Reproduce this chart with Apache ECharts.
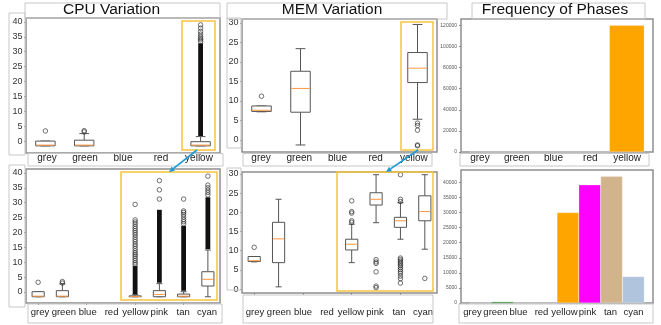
<!DOCTYPE html>
<html><head><meta charset="utf-8">
<script src="https://cdn.jsdelivr.net/npm/echarts@6/dist/echarts.min.js"></script>
<style>html,body{margin:0;padding:0;background:#fff}#c{width:661px;height:325px}</style>
</head><body><div id="c"></div>
<script>
// ---------------- DATA ----------------
const titles = ['CPU Variation', 'MEM Variation', 'Frequency of Phases'];
const topCats = ['grey', 'green', 'blue', 'red', 'yellow'];
const bottomCats = ['grey', 'green', 'blue', 'red', 'yellow', 'pink', 'tan', 'cyan'];
const cpuTicks = [0, 5, 10, 15, 20, 25, 30, 35, 40];
const memTicks = [0, 5, 10, 15, 20, 25, 30];
const freqTopTicks = [0, 20000, 40000, 60000, 80000, 100000, 120000];
const freqBottomTicks = [0, 5000, 10000, 15000, 20000, 25000, 30000, 35000, 40000];

// box stats: [lower whisker, q1, median, q3, upper whisker]
const cpuTopBoxes = [
  [-1.6, -1.6, -1.35, 0.0, 0.0],
  [-1.6, -1.6, -1.35, 0.3, 2.5],
  null, null,
  [-1.6, -1.6, -1.35, -0.2, 1.5]
];
const cpuTopFliers = [[3.4], [3.1, 3.5], [], [], [33.4, 34.0, 34.5, 35.1, 35.9, 36.8, 37.9, 39.0]];
const cpuTopDense = [null, null, null, null, [1.7, 32.8]];

const cpuBottomBoxes = [
  [-1.6, -1.6, -1.4, 0.1, 0.1],
  [-1.6, -1.6, -1.4, 0.45, 2.7],
  null, null,
  [-1.6, -1.6, -1.5, -1.3, -0.9],
  [-1.6, -1.6, -0.8, 0.45, 2.8],
  [-1.6, -1.6, -1.4, -0.7, 0.1],
  [-1.6, 2.0, 4.25, 6.8, 14.1]
];
const cpuBottomFliers = [
  [3.25], [3.0, 3.5], [], [],
  [9.2, 9.8, 10.5, 11.2, 11.9, 12.5, 13.1, 13.8, 14.6, 15.4, 16.1, 16.9, 17.6, 18.4, 19.2, 19.9, 20.6, 21.3, 22.0, 22.8, 23.5, 24.2, 29.4],
  [31.2, 34.3, 37.4],
  [22.9, 23.6, 24.3, 25.2, 26.0, 26.7, 27.2, 31.2],
  [32.6, 33.4, 34.2, 35.0, 35.9, 38.9]
];
const cpuBottomDense = [null, null, null, null, [-0.8, 8.8], [3.1, 27.6], [0.4, 22.2], [14.4, 31.8]];

const memTopBoxes = [
  [7.2, 7.3, 7.6, 8.7, 8.7],
  [-1.3, 7.1, 13.2, 17.6, 23.4],
  null, null,
  [5.3, 14.7, 18.4, 22.4, 29.6]
];
const memTopFliers = [[11.2], [], [], [], [4.3, 3.7, 2.5, -1.3, -1.5]];

const memBottomBoxes = [
  [7.1, 7.2, 7.4, 8.5, 8.5],
  [0.6, 6.9, 13.1, 17.4, 23.4],
  null, null,
  [6.9, 10.2, 11.7, 13.0, 16.9],
  [17.3, 21.9, 23.4, 25.1, 29.8],
  [13.0, 16.1, 17.8, 18.7, 22.5],
  [10.4, 17.8, 20.2, 24.3, 29.8]
];
const memBottomFliers = [
  [10.9], [], [], [],
  [17.4, 17.8, 19.8, 20.2, 23.0],
  [7.7, 7.1, 6.7, 4.5, 0.8, 0.4],
  [29.8, 23.4, 22.8, 8.1, 7.7, 7.3, 6.9, 6.5, 6.1, 5.6, 5.1, 4.6, 4.1, 3.4, 2.7, 1.6],
  [2.8]
];

const freqTopCounts = [0, 0, 0, 0, 120000];
const freqBottomCounts = [0, 450, 0, 0, 30000, 39200, 42000, 8800];

// ---------------- STYLE / LAYOUT ----------------
const phaseColors = { grey: '#808080', green: '#008000', blue: '#0000ff', red: '#ff0000',
  yellow: '#FFA500', pink: '#FF00FF', tan: '#D2B48C', cyan: '#B0C4DE' };
const FONT = 'Liberation Sans, Arial, sans-serif';
const FRAME = '#8e8e8e', BOXLINE = '#c8c8c8', HILITE = '#F7C340', ARROW = '#1E9AD6';
const EDGE = '#555', MEDIAN = '#FF9640';

const panels = [
  { kind: 'box', cats: topCats, boxes: cpuTopBoxes, fliers: cpuTopFliers, dense: cpuTopDense,
    grid: { left: 26, top: 18, width: 194, height: 135 }, ymin: -4.0, ymax: 41.3, ticks: cpuTicks,
    lab: { left: 28, width: 190, y: 158.5, size: 10 } },
  { kind: 'box', cats: bottomCats, boxes: cpuBottomBoxes, fliers: cpuBottomFliers, dense: cpuBottomDense,
    grid: { left: 26, top: 169, width: 194, height: 134 }, ymin: -3.7, ymax: 41.3, ticks: cpuTicks,
    lab: { left: 28, width: 191, y: 312.5, size: 9.5 } },
  { kind: 'box', cats: topCats, boxes: memTopBoxes, fliers: memTopFliers, dense: [],
    grid: { left: 242, top: 19, width: 195, height: 133 }, ymin: -3.1, ymax: 31.0, ticks: memTicks,
    lab: { left: 242, width: 191, y: 158.5, size: 10 } },
  { kind: 'box', cats: bottomCats, boxes: memBottomBoxes, fliers: memBottomFliers, dense: [],
    grid: { left: 242, top: 172, width: 195, height: 121 }, ymin: -1.0, ymax: 30.5, ticks: memTicks,
    lab: { left: 243, width: 192, y: 312.5, size: 9.5 } },
  { kind: 'bar', cats: topCats, counts: freqTopCounts, xmin: -0.75, xmax: 4.75, barW: 35,
    grid: { left: 461, top: 19, width: 192, height: 133 }, ymin: 0, ymax: 126000, ticks: freqTopTicks,
    lab: { left: 461.5, width: 184, y: 158.5, size: 10 } },
  { kind: 'bar', cats: bottomCats, counts: freqBottomCounts, xmin: -0.9, xmax: 7.9, barW: 22,
    grid: { left: 461, top: 170, width: 192, height: 133 }, ymin: 0, ymax: 44100, ticks: freqBottomTicks,
    lab: { left: 461, width: 184, y: 312.5, size: 9.5 } }
];

const grid = [], xAxis = [], yAxis = [], series = [];

function boxRender(params, api) {
  const x = api.value(0);
  const lo = api.coord([x, api.value(1)]);
  const q1 = api.coord([x, api.value(2)]);
  const md = api.coord([x, api.value(3)]);
  const q3 = api.coord([x, api.value(4)]);
  const hi = api.coord([x, api.value(5)]);
  const bw = api.size([1, 0])[0] * 0.5;
  const cx = lo[0], hw = bw / 2, cw = bw / 4;
  const ls = { stroke: EDGE, lineWidth: 1 };
  return { type: 'group', children: [
    { type: 'line', shape: { x1: cx, y1: lo[1], x2: cx, y2: q1[1] }, style: ls },
    { type: 'line', shape: { x1: cx, y1: q3[1], x2: cx, y2: hi[1] }, style: ls },
    { type: 'line', shape: { x1: cx - cw, y1: lo[1], x2: cx + cw, y2: lo[1] }, style: ls },
    { type: 'line', shape: { x1: cx - cw, y1: hi[1], x2: cx + cw, y2: hi[1] }, style: ls },
    { type: 'rect', shape: { x: cx - hw, y: q3[1], width: bw, height: Math.max(q1[1] - q3[1], 0.5) },
      style: { fill: '#fff', stroke: EDGE, lineWidth: 1 } },
    { type: 'line', shape: { x1: cx - hw + 0.5, y1: md[1], x2: cx + hw - 0.5, y2: md[1] },
      style: { stroke: MEDIAN, lineWidth: 1 } }
  ] };
}
function denseRender(params, api) {
  const x = api.value(0);
  const a = api.coord([x, api.value(1)]);
  const b = api.coord([x, api.value(2)]);
  return { type: 'rect', shape: { x: a[0] - 2.4, y: b[1], width: 4.8, height: a[1] - b[1] },
    style: { fill: '#111' } };
}

panels.forEach((p, i) => {
  const g = grid.length;
  grid.push(Object.assign({ show: true, borderColor: FRAME, borderWidth: 1.5, backgroundColor: '#fff' }, p.grid));
  const isBar = p.kind === 'bar';
  if (isBar) {
    xAxis.push({ gridIndex: g, type: 'value', min: p.xmin, max: p.xmax, show: false,
      axisLine: { onZero: false } });
  } else {
    xAxis.push({ gridIndex: g, type: 'category', data: p.cats,
      axisLine: { show: false, onZero: false }, axisLabel: { show: false }, splitLine: { show: false },
      axisTick: { show: true, alignWithLabel: true, length: 2, lineStyle: { color: '#888' } } });
  }
  yAxis.push({ gridIndex: g, type: 'value', min: p.ymin, max: p.ymax,
    axisLine: { show: false, onZero: false }, splitLine: { show: false },
    axisTick: { show: true, length: 2, customValues: p.ticks, lineStyle: { color: '#888' } },
    axisLabel: { customValues: p.ticks, margin: isBar ? 4 : 3.5, fontSize: isBar ? 5 : 9,
      color: isBar ? '#555' : '#333', fontFamily: FONT, formatter: v => String(v) } });

  if (isBar) {
    series.push({ type: 'bar', xAxisIndex: g, yAxisIndex: g, barWidth: p.barW,
      data: p.counts.map((c, k) => [k, c]),
      itemStyle: { color: prm => phaseColors[p.cats[prm.data[0]]], borderColor: 'rgba(255,255,255,0.5)', borderWidth: 0.5 },
      animation: false, silent: true });
  } else {
    const bdata = [];
    p.boxes.forEach((b, k) => { if (b) bdata.push([k].concat(b)); });
    series.push({ type: 'custom', xAxisIndex: g, yAxisIndex: g, renderItem: boxRender,
      encode: { x: 0, y: [1, 2, 3, 4, 5] }, data: bdata, animation: false, silent: true, z: 2 });
    const ddata = [];
    p.dense.forEach((d, k) => { if (d) ddata.push([k, d[0], d[1]]); });
    if (ddata.length) series.push({ type: 'custom', xAxisIndex: g, yAxisIndex: g, renderItem: denseRender,
      encode: { x: 0, y: [1, 2] }, data: ddata, animation: false, silent: true, z: 3 });
    const fdata = [];
    p.fliers.forEach((arr, k) => arr.forEach(v => fdata.push([k, v])));
    series.push({ type: 'scatter', xAxisIndex: g, yAxisIndex: g, data: fdata, symbol: 'circle', symbolSize: 4.5,
      itemStyle: { color: 'rgba(255,255,255,0)', borderColor: '#222', borderWidth: 0.8 },
      animation: false, silent: true, z: 4 });
  }

  // label strip axis
  const lg = grid.length;
  grid.push({ left: p.lab.left, width: p.lab.width, top: p.lab.y - 1, height: 1 });
  xAxis.push({ gridIndex: lg, type: 'category', data: p.cats, axisLine: { show: false }, axisTick: { show: false },
    axisLabel: { margin: 0, verticalAlign: 'middle', fontSize: p.lab.size, color: '#222', fontFamily: FONT, interval: 0 } });
  yAxis.push({ gridIndex: lg, type: 'value', show: false });
});

// decorative frames (title boxes, label boxes, highlight rectangles, arrows)
const rect = (x, y, w, h, c, lw) => ({ type: 'rect', shape: { x, y, width: w, height: h },
  style: { fill: null, stroke: c, lineWidth: lw }, silent: true, z: 1 });
const graphic = [
  rect(25, 3, 195, 15, BOXLINE, 1), rect(227, 3, 220, 16, BOXLINE, 1), rect(472, 3, 173, 16, BOXLINE, 1),
  rect(9, 13, 16, 142, BOXLINE, 1), rect(9, 165, 16, 142, BOXLINE, 1),
  rect(227, 18, 14, 130, BOXLINE, 1), rect(227, 168, 14, 122, BOXLINE, 1),
  rect(28, 153.5, 195, 12.5, BOXLINE, 1), rect(28, 304, 194, 19, BOXLINE, 1),
  rect(243, 153.5, 189, 12.5, BOXLINE, 1), rect(243, 295, 190, 28, BOXLINE, 1),
  rect(460, 153.5, 189, 12.5, BOXLINE, 1), rect(459, 304, 194, 19, BOXLINE, 1)
];
const hl = (x, y, w, h) => Object.assign(rect(x, y, w, h, HILITE, 1.5), { z: 100 });
graphic.push(hl(182, 21, 33, 129), hl(121, 172, 96, 128), hl(401, 22, 32, 128), hl(337, 172, 96, 119));
[[titles[0], 111.5], [titles[1], 332], [titles[2], 555]].forEach(([t, x]) => graphic.push({
  type: 'text', x, y: 10, z: 100, silent: true,
  style: { text: t, font: '15.5px ' + FONT, fill: '#111', textAlign: 'center', textVerticalAlign: 'middle' } }));
function arrow(x1, y1, x2, y2) {
  const ang = Math.atan2(y2 - y1, x2 - x1), L = 5.5, W = 2.6;
  const bx = x2 - L * Math.cos(ang), by = y2 - L * Math.sin(ang);
  const px = -Math.sin(ang) * W, py = Math.cos(ang) * W;
  graphic.push({ type: 'line', shape: { x1, y1, x2: bx, y2: by }, style: { stroke: ARROW, lineWidth: 1.6 }, z: 200, silent: true });
  graphic.push({ type: 'polygon', shape: { points: [[x2, y2], [bx + px, by + py], [bx - px, by - py]] },
    style: { fill: ARROW }, z: 200, silent: true });
}
arrow(197, 150, 169, 172);
arrow(418, 150, 386, 172);

const chart = echarts.init(document.getElementById('c'), null, { renderer: 'canvas' });
chart.setOption({ animation: false, textStyle: { fontFamily: FONT }, grid, xAxis, yAxis, series, graphic });
</script></body></html>
